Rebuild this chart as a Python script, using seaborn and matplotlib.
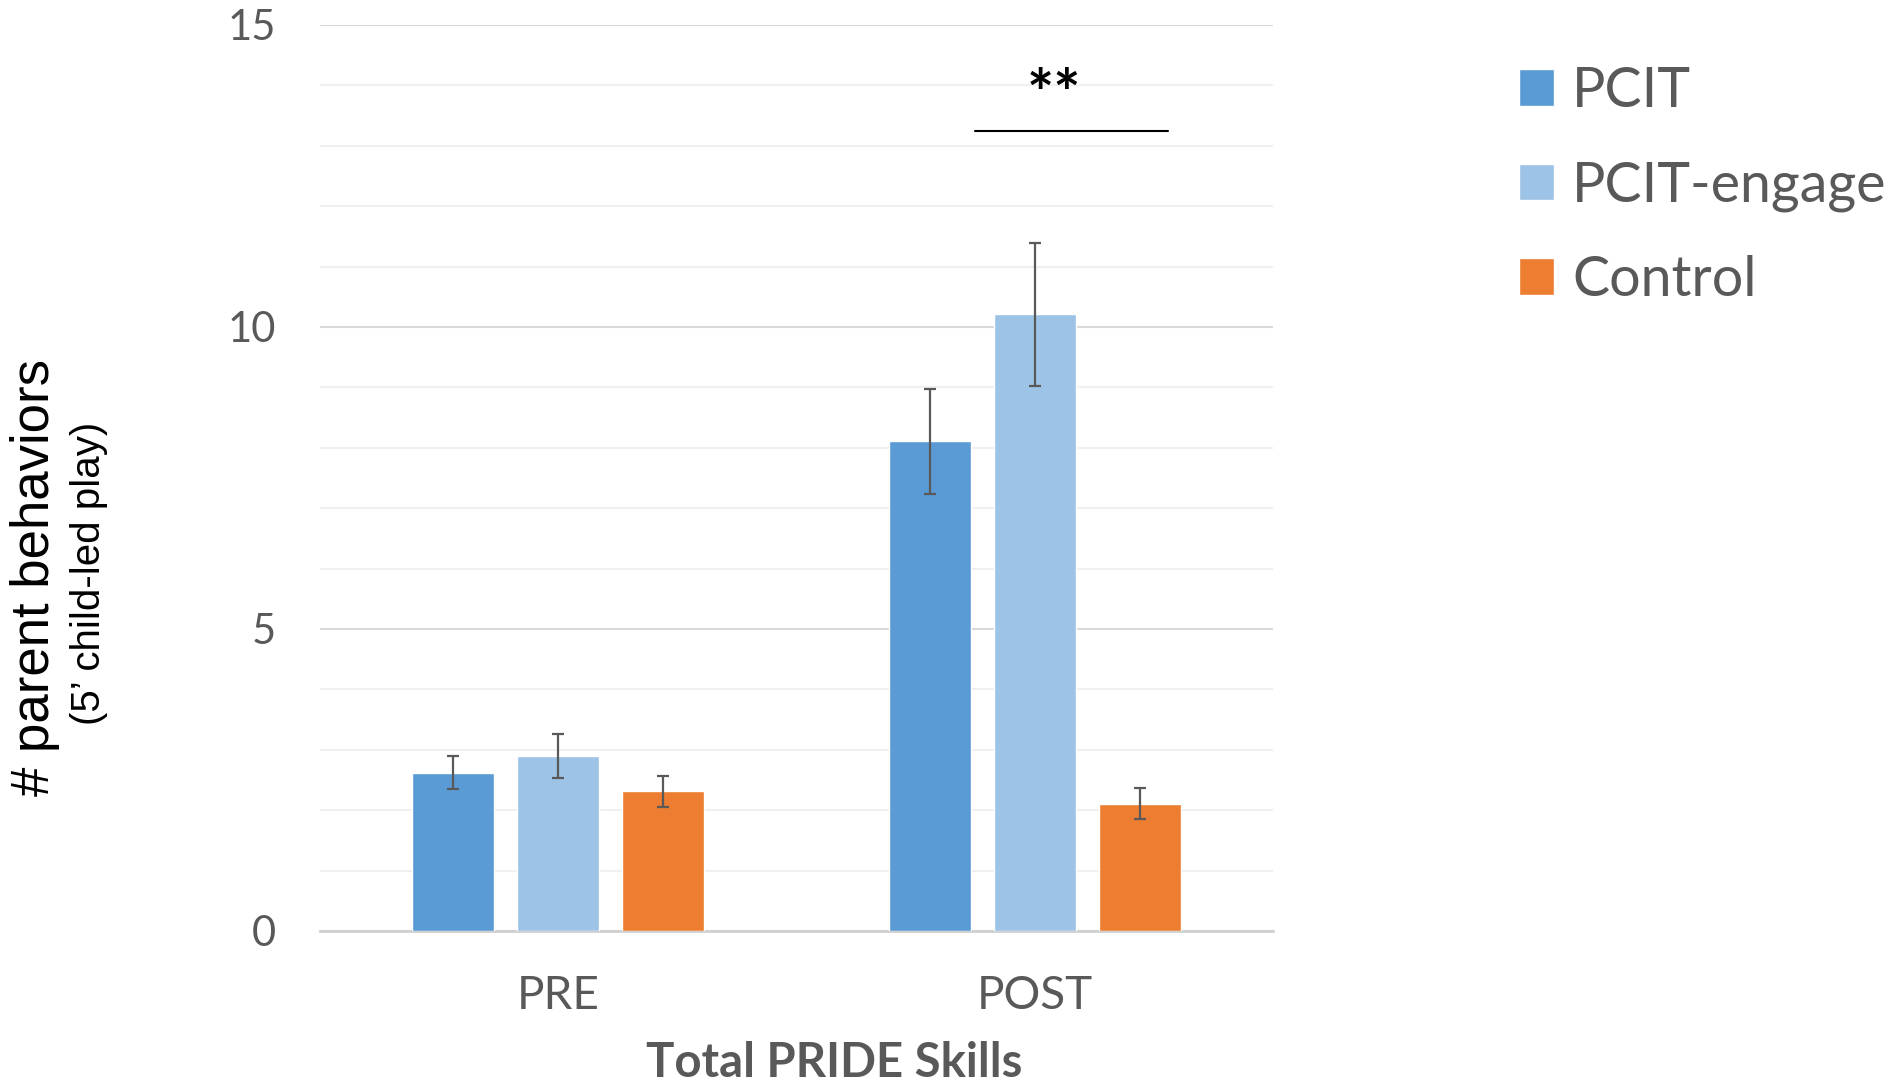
import matplotlib
matplotlib.use("Agg")
import matplotlib.pyplot as plt
import seaborn as sns
import pandas as pd
import numpy as np

# ---- data ----
phases = ["PRE", "POST"]
groups = ["PCIT", "PCIT-engage", "Control"]
pcit_mean = [2.62, 8.11]
pcit_err = [0.27, 0.87]
engage_mean = [2.90, 10.21]
engage_err = [0.36, 1.18]
control_mean = [2.31, 2.11]
control_err = [0.26, 0.25]
y_ticks = [0, 5, 10, 15]
sig_label = "**"
sig_span = (0.875, 1.28)   # x-range of significance bar (category units)
sig_y = 13.25
star_x = 1.04
star_y = 13.8

colors = ["#5B9BD5", "#9DC3E6", "#ED7D31"]
grey = "#595959"

df = pd.DataFrame({
    "phase": phases * 3,
    "group": [g for g in groups for _ in phases],
    "mean": pcit_mean + engage_mean + control_mean,
})
errs = {"PCIT": pcit_err, "PCIT-engage": engage_err, "Control": control_err}

sns.set_theme(style="white")
plt.rcParams["font.family"] = ["Lato", "DejaVu Sans"]

fig = plt.figure(figsize=(18.95, 10.81), dpi=100)
ax = fig.add_axes([320 / 1895, 1 - 931 / 1081, (1273 - 320) / 1895, (931 - 25) / 1081])

sns.barplot(data=df, x="phase", y="mean", hue="group", order=phases,
            hue_order=groups, palette=colors, saturation=1, errorbar=None,
            width=0.662, gap=0.22, ax=ax, zorder=3)

for cont, g in zip(ax.containers, groups):
    for bar, e in zip(cont, errs[g]):
        xc = bar.get_x() + bar.get_width() / 2
        ax.errorbar(xc, bar.get_height(), yerr=e, fmt="none", ecolor=grey,
                    elinewidth=1.6, capsize=4.3, capthick=1.6, zorder=4)

ax.set_ylim(0, 15)
ax.set_xlim(-0.5, 1.5)
ax.set_yticks(y_ticks)
ax.set_yticks(np.arange(0, 16, 1), minor=True)
ax.grid(False)
ax.yaxis.grid(True, which="minor", color="#f0f0f0", linewidth=1.5, zorder=0)
ax.yaxis.grid(True, which="major", color="#d9d9d9", linewidth=1.5, zorder=0)
for s in ["top", "right", "left"]:
    ax.spines[s].set_visible(False)
ax.spines["bottom"].set_color("#d0d0d0")
ax.spines["bottom"].set_linewidth(2)
ax.tick_params(axis="y", which="both", length=0, pad=32, labelsize=30, labelcolor=grey)
ax.tick_params(axis="x", length=0, pad=32, labelsize=33, labelcolor=grey)
ax.set_xlabel("")
ax.set_ylabel("")

# significance annotation
ax.plot(list(sig_span), [sig_y, sig_y], color="black", linewidth=1.5, clip_on=False)
ax.text(star_x, star_y, sig_label, ha="center", va="center", fontsize=46,
        fontweight="bold", color="black")

# legend
handles, labels = ax.get_legend_handles_labels()
ax.legend(handles, labels, loc="upper left", bbox_to_anchor=(1519 / 1895, 1 - 66 / 1081),
          bbox_transform=fig.transFigure, frameon=False, fontsize=40,
          handlelength=0.63, handleheight=0.63, handletextpad=0.33,
          labelspacing=0.78, labelcolor=grey, borderaxespad=0, borderpad=0)

# axis titles
fig.text(834 / 1895, 1 - 1077 / 1081, "Total PRIDE Skills", ha="center", va="baseline",
         fontsize=34, fontweight="bold", color=grey)
fig.text(35 / 1895, 1 - 577 / 1081, "# parent behaviors", rotation=90, ha="center",
         va="center", fontsize=38, color="black",
         family=["Liberation Sans", "DejaVu Sans"])
fig.text(89 / 1895, 1 - 573 / 1081, "(5\u2019 child-led play)", rotation=90, ha="center",
         va="center", fontsize=29, color="black",
         family=["Liberation Sans", "DejaVu Sans"])

fig.savefig("out.png", dpi=100)
